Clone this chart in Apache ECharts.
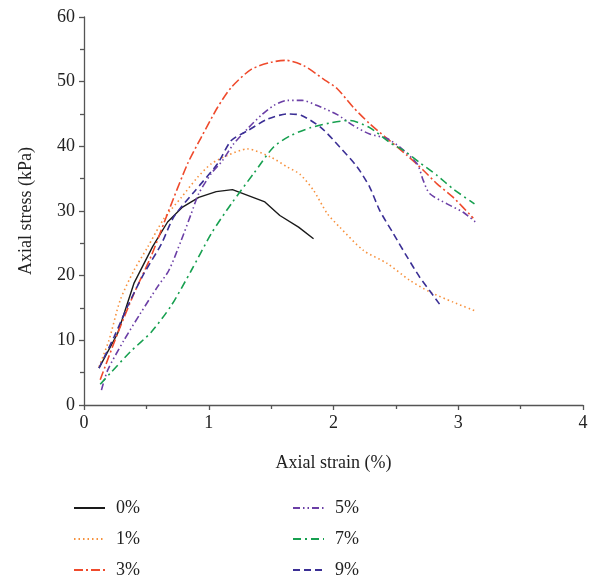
<!DOCTYPE html>
<html><head><meta charset="utf-8">
<script src="https://cdn.jsdelivr.net/npm/echarts@6/dist/echarts.min.js"></script>
<style>html,body{margin:0;padding:0;background:#fff}#c{width:597px;height:580px}</style>
</head><body><div id="c"></div>
<script>
const seriesNames = ['0%', '1%', '3%', '5%', '7%', '9%'];
const s0 = [[0.12,5.7],[0.27,11.1],[0.40,18.8],[0.55,24.5],[0.67,28.3],[0.79,30.6],[0.92,32.1],[1.06,33.0],[1.19,33.3],[1.45,31.4],[1.57,29.3],[1.72,27.5],[1.84,25.7]];
const s1 = [[0.12,5.9],[0.20,10.0],[0.29,16.2],[0.40,20.8],[0.51,24.4],[0.64,28.8],[0.78,32.1],[0.91,35.2],[1.02,37.3],[1.15,38.6],[1.31,39.6],[1.50,38.3],[1.63,36.8],[1.73,35.7],[1.84,33.2],[1.95,29.6],[2.05,27.5],[2.24,23.9],[2.43,21.9],[2.61,19.3],[2.77,17.5],[2.96,15.9],[3.13,14.6]];
const s3 = [[0.13,3.9],[0.27,11.1],[0.40,17.2],[0.54,23.1],[0.67,29.6],[0.83,37.3],[0.94,41.4],[1.07,46.0],[1.18,49.1],[1.34,51.9],[1.50,53.0],[1.62,53.3],[1.76,52.5],[1.92,50.4],[2.03,48.9],[2.16,46.0],[2.29,43.5],[2.43,41.2],[2.59,38.6],[2.72,36.3],[2.83,34.2],[2.96,32.1],[3.12,28.9]];
const s5 = [[0.14,2.3],[0.19,5.4],[0.32,10.0],[0.45,14.1],[0.59,18.3],[0.68,20.8],[0.78,25.5],[0.86,29.6],[0.92,32.7],[1.02,35.8],[1.11,37.8],[1.20,40.4],[1.31,42.7],[1.42,44.8],[1.52,46.3],[1.63,47.1],[1.75,47.1],[1.87,46.3],[2.03,44.9],[2.16,43.2],[2.29,41.9],[2.43,41.2],[2.53,39.9],[2.67,37.3],[2.72,34.7],[2.77,32.7],[2.91,31.1],[3.04,29.8],[3.15,28.1]];
const s7 = [[0.13,3.2],[0.21,4.9],[0.37,8.2],[0.54,11.3],[0.70,15.4],[0.86,20.8],[1.02,26.5],[1.18,31.1],[1.36,35.8],[1.52,39.9],[1.66,41.7],[1.82,42.9],[1.97,43.6],[2.13,44.0],[2.29,42.9],[2.45,40.6],[2.56,39.4],[2.69,37.5],[2.83,35.5],[2.96,33.4],[3.13,31.1]];
const s9 = [[0.12,5.7],[0.24,10.5],[0.36,15.7],[0.48,20.3],[0.62,24.9],[0.72,29.1],[0.88,32.9],[1.07,37.3],[1.18,40.9],[1.31,42.4],[1.47,44.2],[1.63,45.0],[1.74,44.8],[1.90,42.9],[2.05,39.9],[2.19,36.8],[2.29,33.7],[2.37,30.1],[2.48,26.5],[2.59,22.9],[2.69,19.8],[2.77,17.7],[2.85,15.6]];
const xTicks = [0, 1, 2, 3, 4];
const yTicks = [0, 10, 20, 30, 40, 50, 60];

const data = [s0, s1, s3, s5, s7, s9];
const colors = ['#1a1a1a', '#f7913d', '#ef4a2c', '#6b3fa6', '#17a050', '#3b2f95'];
const dashes = ['solid', [1.5, 3], [9, 3, 2, 3], [7, 3, 1.5, 3, 1.5, 3], [8, 4, 2, 4], [7, 4]];
const F = 'Liberation Serif';
const ax = {color:'#555', width:1.3};

const legendBase = {orient:'vertical', top:494, height:120, itemGap:13, itemWidth:31, itemHeight:18,
  itemStyle:{opacity:0},
  textStyle:{fontFamily:F, fontSize:18, color:'#222', padding:[0,0,0,6]}};

const chart = echarts.init(document.getElementById('c'), null, {renderer:'canvas'});
chart.setOption({
  animation:false,
  textStyle:{fontFamily:F},
  grid:{left:84, right:14, top:17, bottom:175, containLabel:false},
  xAxis:{type:'value', min:0, max:4, interval:1,
    name:'Axial strain (%)', nameLocation:'middle', nameGap:49,
    nameTextStyle:{fontFamily:F, fontSize:18, color:'#222'},
    axisLine:{lineStyle:ax}, axisTick:{lineStyle:ax, length:5},
    minorTick:{show:true, splitNumber:2, length:4, lineStyle:ax},
    splitLine:{show:false},
    axisLabel:{fontFamily:F, fontSize:18, color:'#222', margin:9}},
  yAxis:{type:'value', min:0, max:60, interval:10,
    name:'Axial stress (kPa)', nameLocation:'middle', nameGap:49,
    nameTextStyle:{fontFamily:F, fontSize:18, color:'#222'},
    axisLine:{show:true, lineStyle:ax}, axisTick:{show:true, lineStyle:ax, length:5},
    minorTick:{show:true, splitNumber:2, length:4, lineStyle:ax},
    splitLine:{show:false},
    axisLabel:{fontFamily:F, fontSize:18, color:'#222', margin:9}},
  legend:[
    Object.assign({data:seriesNames.slice(0,3), left:68}, legendBase),
    Object.assign({data:seriesNames.slice(3), left:287}, legendBase)
  ],
  series: data.map((d, i) => ({
    name: seriesNames[i], type:'line', data:d, smooth: i === 0 ? false : 0.25,
    symbol:'none', color: colors[i],
    lineStyle:{color:colors[i], width: i === 0 ? 1.4 : 1.6, type:dashes[i]}
  }))
});
</script></body></html>
